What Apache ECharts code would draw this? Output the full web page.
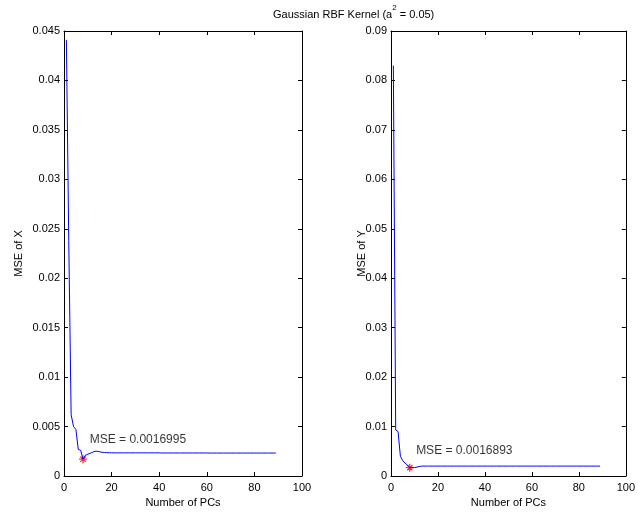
<!DOCTYPE html>
<html><head><meta charset="utf-8">
<script src="https://cdn.jsdelivr.net/npm/echarts@6/dist/echarts.min.js"></script>
<style>html,body{margin:0;padding:0;background:#fff}#c{width:638px;height:516px}</style>
</head><body><div id="c"></div>
<script>
// MSE of X vs number of PCs (PC = 1..89)
const mseX = [
 0.0441,0.0238,0.0062,0.0050,0.0047,0.0027,0.0026,0.0017,0.0021,0.0022,
 0.0023,0.0024,0.0025,0.0025,0.00245,0.0024,0.00238,0.00236,0.00235,0.00235,
 0.00234,0.00234,0.00234,0.00234,0.00234,0.00234,0.00234,0.00234,0.00234,0.00234,
 0.00234,0.00234,0.00234,0.00234,0.00234,0.00234,0.00234,0.00234,0.00234,0.00234,
 0.00233,0.00233,0.00233,0.00233,0.00233,0.00233,0.00233,0.00233,0.00233,0.00233,
 0.00233,0.00233,0.00233,0.00233,0.00233,0.00233,0.00233,0.00233,0.00233,0.00233,
 0.00232,0.00232,0.00232,0.00232,0.00232,0.00232,0.00232,0.00232,0.00232,0.00232,
 0.00232,0.00232,0.00232,0.00232,0.00232,0.00232,0.00232,0.00232,0.00232,0.00232,
 0.00232,0.00232,0.00232,0.00232,0.00232,0.00232,0.00232,0.00232,0.00232
];
// MSE of Y vs number of PCs
const mseY = [
 0.0830,0.0093,0.0090,0.0040,0.0031,0.0026,0.0022,0.0017,0.0017,0.0017,
 0.0018,0.0019,0.0020,0.0020,0.0020,0.0020,0.0020,0.0020,0.0020,0.0020,
 0.0020,0.0020,0.0020,0.0020,0.0020,0.0020,0.0020,0.0020,0.0020,0.0020,
 0.0020,0.0020,0.0020,0.0020,0.0020,0.0020,0.0020,0.0020,0.0020,0.0020,
 0.0020,0.0020,0.0020,0.0020,0.0020,0.0020,0.0020,0.0020,0.0020,0.0020,
 0.0020,0.0020,0.0020,0.0020,0.0020,0.0020,0.0020,0.0020,0.0020,0.0020,
 0.0020,0.0020,0.0020,0.0020,0.0020,0.0020,0.0020,0.0020,0.0020,0.0020,
 0.0020,0.0020,0.0020,0.0020,0.0020,0.0020,0.0020,0.0020,0.0020,0.0020,
 0.0020,0.0020,0.0020,0.0020,0.0020,0.0020,0.0020,0.0020,0.0020
];
const bestX = [8, 0.0016995];
const bestY = [8, 0.0016893];
const labelX = "MSE = 0.0016995";
const labelY = "MSE = 0.0016893";
const labelAnchorX = [10.8, 0.0037];
const labelAnchorY = [10.7, 0.0051];
const xTickInterval = 20;
const yTicksLeft = {max: 0.045, interval: 0.005};
const yTicksRight = {max: 0.09, interval: 0.01};

const FONT = 'Liberation Sans, Arial, Helvetica, sans-serif';
const chart = echarts.init(document.getElementById('c'), null, {renderer: 'canvas'});
const toPairs = arr => arr.map((v, i) => [i + 1, v]);
const star = 'path://M5 0L5 10M0 5L10 5M1.6 1.6L8.4 8.4M1.6 8.4L8.4 1.6';
const axisLine = {show: true, onZero: false, lineStyle: {color: '#000', width: 1}};
const tick = {show: true, inside: true, length: 4, lineStyle: {color: '#000'}};

function xAxes(gi) {
  return [
    {gridIndex: gi, type: 'value', min: 0, max: 100, interval: xTickInterval, position: 'bottom',
     axisLine, axisTick: tick, splitLine: {show: false},
     axisLabel: {color: '#000', fontFamily: FONT, fontSize: 11, margin: 6},
     name: 'Number of PCs', nameLocation: 'middle', nameGap: 21,
     nameTextStyle: {color: '#000', fontFamily: FONT, fontSize: 11}},
    {gridIndex: gi, type: 'value', min: 0, max: 100, interval: xTickInterval, position: 'top',
     axisLine, axisTick: tick, splitLine: {show: false}, axisLabel: {show: false}}
  ];
}
function yAxes(gi, t, name, gap) {
  return [
    {gridIndex: gi, type: 'value', min: 0, max: t.max, interval: t.interval, position: 'left',
     axisLine, axisTick: tick, splitLine: {show: false},
     axisLabel: {color: '#000', fontFamily: FONT, fontSize: 11, margin: 4},
     name, nameLocation: 'middle', nameGap: gap, nameMoveOverlap: false,
     nameTextStyle: {color: '#000', fontFamily: FONT, fontSize: 11}},
    {gridIndex: gi, type: 'value', min: 0, max: t.max, interval: t.interval, position: 'right',
     axisLine, axisTick: tick, splitLine: {show: false}, axisLabel: {show: false}}
  ];
}

chart.setOption({
  animation: false,
  backgroundColor: '#fff',
  graphic: [{
    type: 'text', left: 273, top: 4,
    style: {
      text: '{n|Gaussian RBF Kernel (a}{s|2}{n| = 0.05)}',
      rich: {
        n: {fontFamily: FONT, fontSize: 11, fill: '#000', lineHeight: 16, verticalAlign: 'bottom'},
        s: {fontFamily: FONT, fontSize: 8, fill: '#000', lineHeight: 16, verticalAlign: 'top'}
      }
    }
  }],
  grid: [
    {left: 64, top: 31, width: 238, height: 445},
    {left: 391, top: 31, width: 238, height: 445}
  ],
  xAxis: [...xAxes(0), ...xAxes(1)],
  yAxis: [...yAxes(0, yTicksLeft, 'MSE of X', 40), ...yAxes(1, yTicksRight, 'MSE of Y', 24)],
  series: [
    {type: 'line', xAxisIndex: 0, yAxisIndex: 0, data: toPairs(mseX), showSymbol: false,
     lineStyle: {color: '#0000ff', width: 1}},
    {type: 'scatter', xAxisIndex: 0, yAxisIndex: 0, data: [bestX], symbol: star, symbolSize: 8,
     itemStyle: {color: 'rgba(0,0,0,0)', borderColor: '#ff0000', borderWidth: 1.3}},
    {type: 'scatter', xAxisIndex: 0, yAxisIndex: 0, data: [labelAnchorX], symbolSize: 0,
     label: {show: true, position: 'right', distance: 0, formatter: labelX,
             color: '#000', fontFamily: FONT, fontSize: 12}},
    {type: 'line', xAxisIndex: 2, yAxisIndex: 2, data: toPairs(mseY), showSymbol: false,
     lineStyle: {color: '#0000ff', width: 1}},
    {type: 'scatter', xAxisIndex: 2, yAxisIndex: 2, data: [bestY], symbol: star, symbolSize: 8,
     itemStyle: {color: 'rgba(0,0,0,0)', borderColor: '#ff0000', borderWidth: 1.3}},
    {type: 'scatter', xAxisIndex: 2, yAxisIndex: 2, data: [labelAnchorY], symbolSize: 0,
     label: {show: true, position: 'right', distance: 0, formatter: labelY,
             color: '#000', fontFamily: FONT, fontSize: 12}}
  ]
});
</script>
</body></html>
